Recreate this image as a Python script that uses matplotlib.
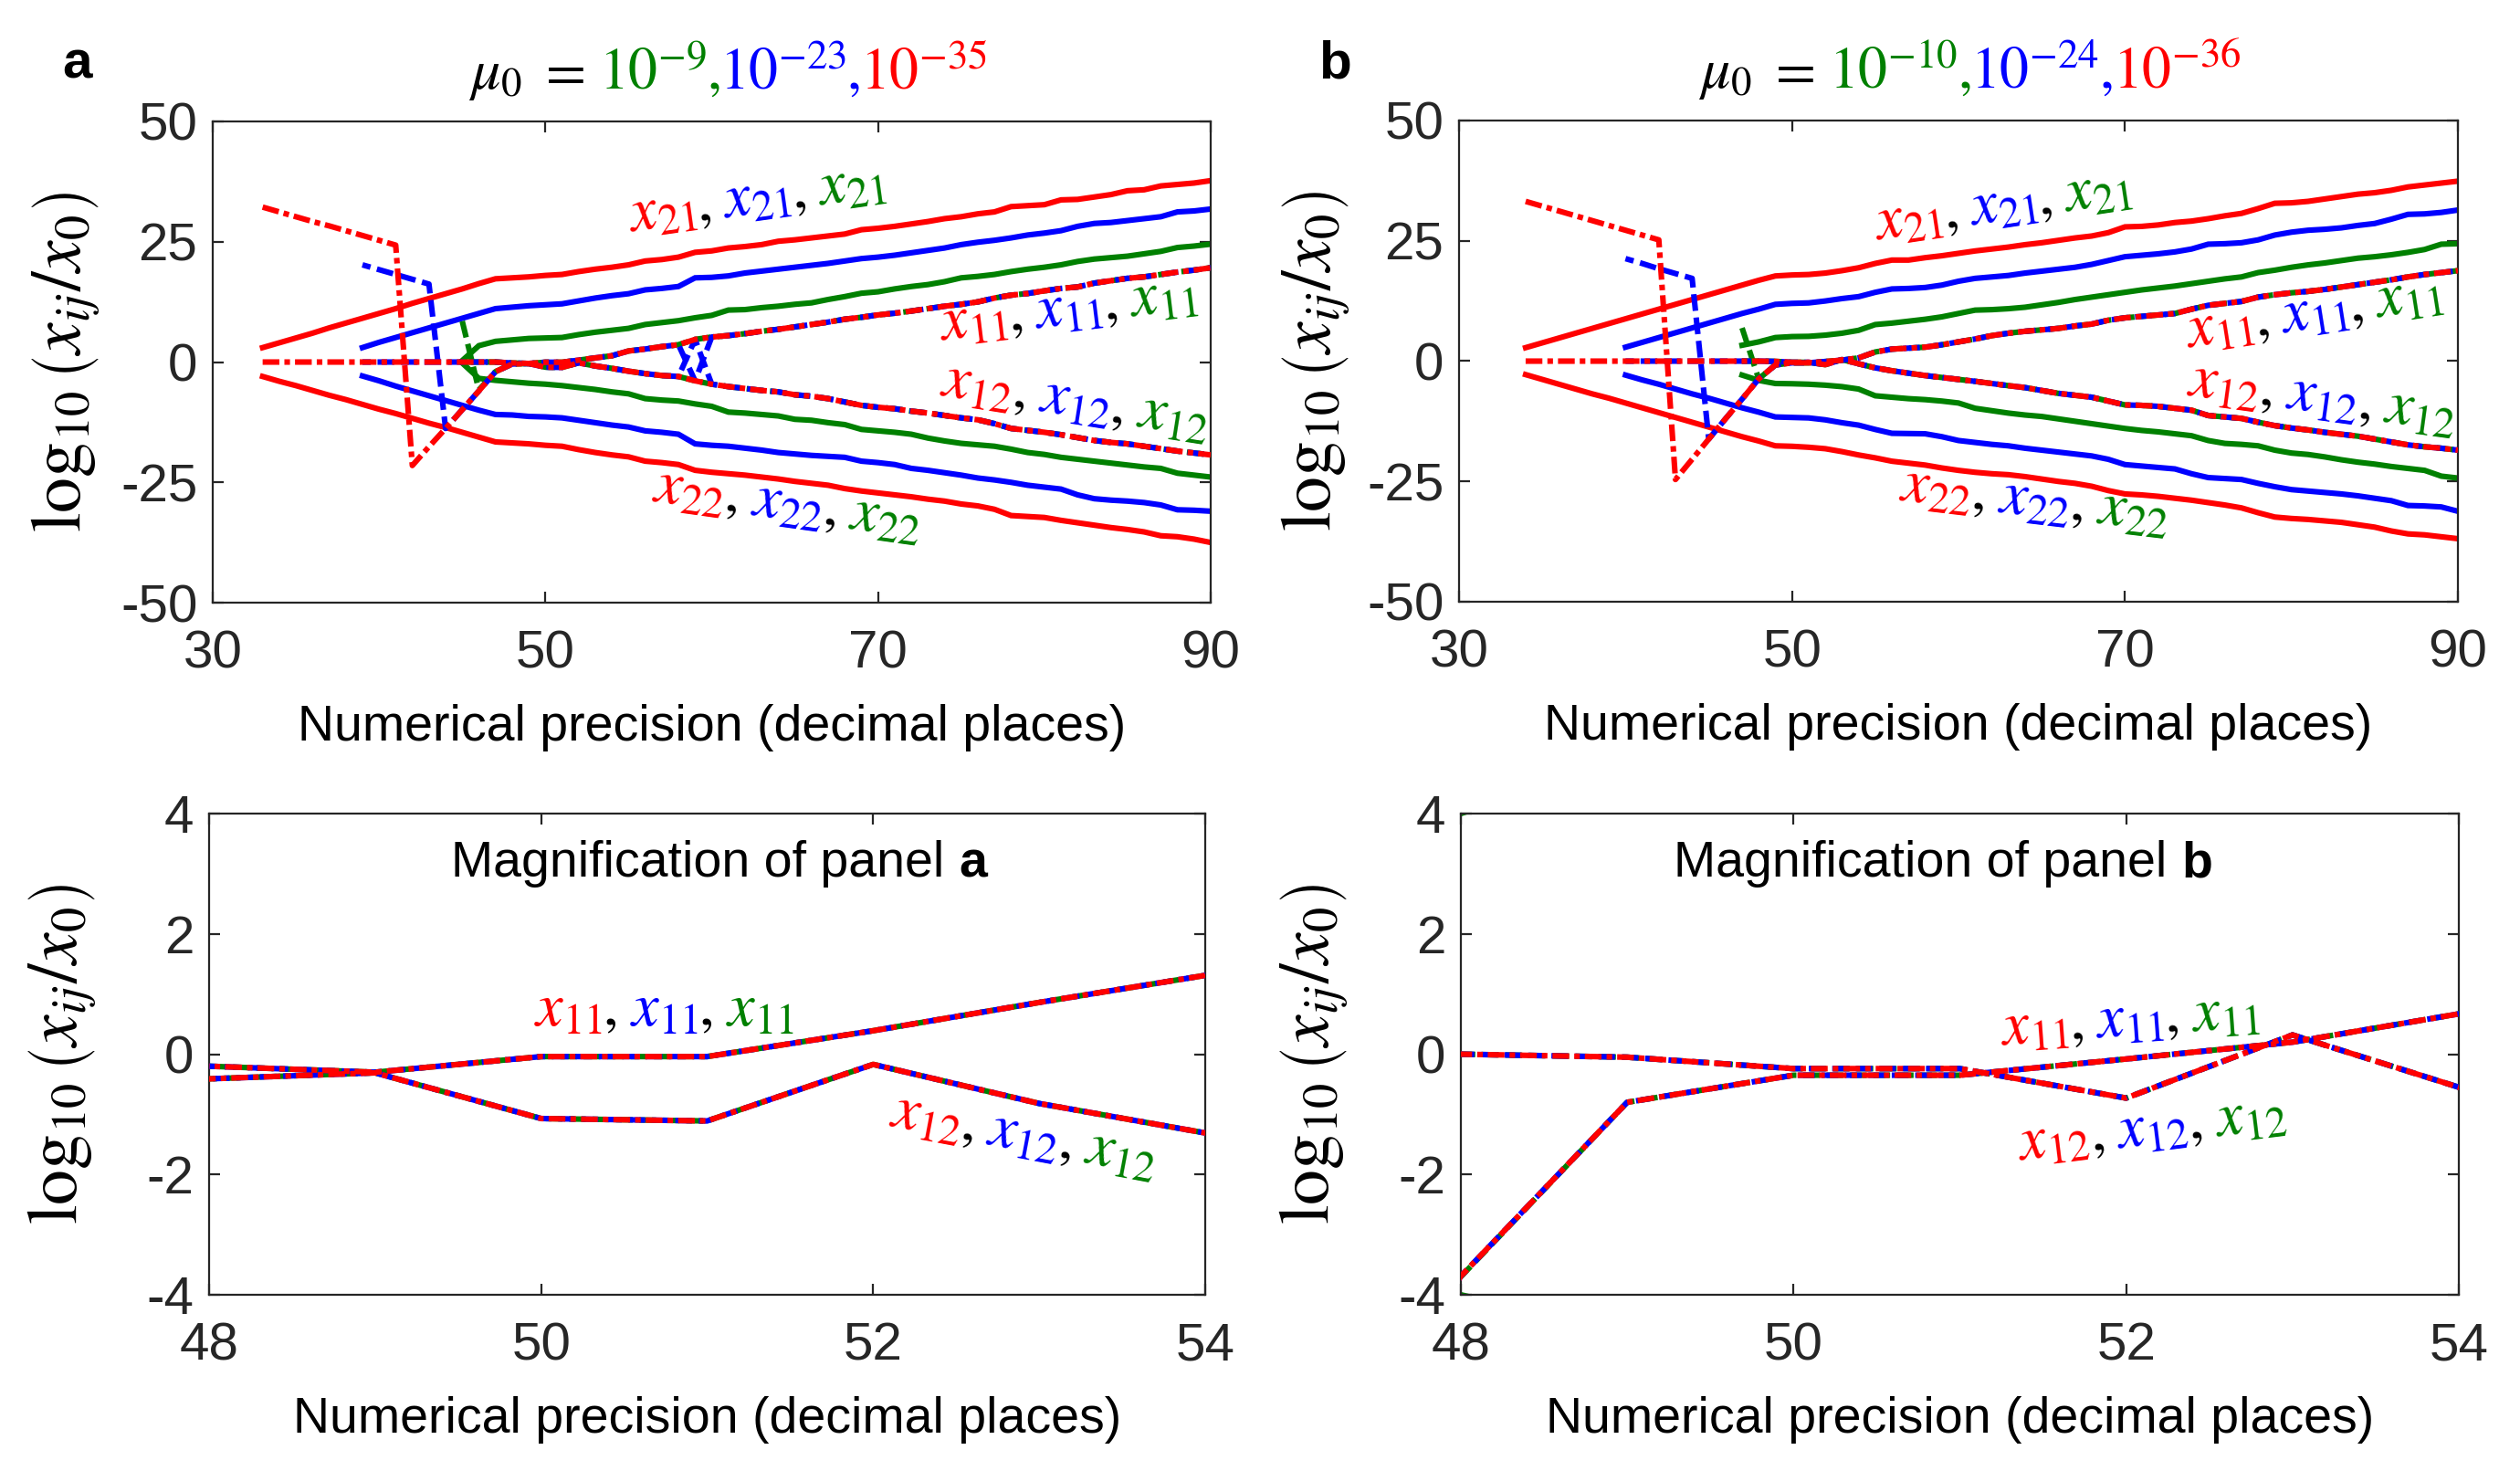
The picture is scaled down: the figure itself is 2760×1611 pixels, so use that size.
import numpy as np
import matplotlib
matplotlib.use("Agg")
import matplotlib.pyplot as plt
from matplotlib.transforms import ScaledTranslation

plt.rcParams['font.family'] = ['Liberation Sans', 'DejaVu Sans']
plt.rcParams['mathtext.fontset'] = 'stix'
plt.rcParams['axes.unicode_minus'] = False

GREEN = '#008000'
BLUE = '#0000ff'
RED = '#ff0000'
DARK = '#262626'

# ---------------- Panel a (mu0 = 1e-9 green, 1e-23 blue, 1e-35 red) ----------------
A_RED_START, A_BLUE_START, A_GREEN_START = 33, 39, 45
A_RED_X21 = [3.0, 4.0, 5.0, 6.0, 7.1, 8.1, 9.1, 10.1, 11.1, 12.2, 13.2, 14.2, 15.2, 16.3, 17.3,
             17.5, 17.7, 18.0, 18.2, 18.8, 19.3, 19.7, 20.2, 21.0, 21.3,
             21.8, 22.8, 23.1, 23.7, 24.0, 24.4, 25.1, 25.4, 25.8, 26.2,
             26.6, 27.5, 27.8, 28.2, 28.7, 29.2, 29.8, 30.2, 30.8, 31.2,
             32.3, 32.5, 32.7, 33.7, 33.8, 34.3, 34.8, 35.6, 35.8, 36.6,
             36.9, 37.2, 37.7]
A_RED_X22 = [-3.0, -4.0, -4.9, -5.9, -6.9, -7.8, -8.8, -9.8, -10.7, -11.7, -12.7, -13.6, -14.6, -15.6, -16.6,
             -16.8, -17.0, -17.3, -17.5, -18.2, -18.8, -19.3, -19.7, -20.6, -20.9,
             -21.3, -22.5, -22.9, -23.2, -23.5, -23.9, -24.3, -24.8, -25.2, -25.6,
             -26.3, -26.8, -27.2, -27.6, -28.0, -28.5, -28.9, -29.5, -29.9, -30.6,
             -31.9, -32.1, -32.3, -32.9, -33.4, -33.9, -34.4, -34.8, -35.3, -36.1,
             -36.3, -36.8, -37.5]
A_BLUE_X21 = [3.0, 4.1, 5.1, 6.1, 7.1, 8.1, 9.1, 10.1, 11.1,
              11.4, 11.7, 11.9, 12.1, 12.7, 13.3, 13.8, 14.2, 15.0, 15.3,
              15.7, 17.5, 17.6, 17.9, 18.5, 18.9, 19.3, 19.7, 20.1, 20.5,
              21.0, 21.5, 21.8, 22.2, 22.7, 23.2, 23.7, 24.4, 24.9, 25.3,
              25.8, 26.4, 26.8, 27.3, 28.2, 28.8, 29.0, 29.4, 29.8, 30.2,
              31.2, 31.4, 31.8]
A_BLUE_X22 = [-2.9, -3.9, -5.0, -6.0, -7.0, -8.0, -9.0, -10.0, -10.9,
              -11.0, -11.3, -11.4, -11.6, -12.1, -12.6, -13.1, -13.5, -14.3, -14.6,
              -15.0, -17.0, -17.3, -17.5, -17.9, -18.3, -18.8, -19.1, -19.4, -19.6,
              -19.8, -20.6, -20.9, -21.3, -22.1, -22.5, -23.0, -23.5, -24.1, -24.5,
              -25.0, -25.6, -26.0, -26.4, -27.6, -28.4, -28.7, -28.9, -29.2, -29.7,
              -30.7, -30.8, -31.0]
A_GREEN_X21 = [0.3, 3.4, 4.3,
               4.6, 4.9, 5.0, 5.1, 5.7, 6.2, 6.6, 7.0, 7.8, 8.2,
               8.6, 9.2, 9.7, 10.8, 10.9, 11.3, 11.6, 12.0, 12.3, 13.0,
               13.6, 14.3, 14.6, 15.2, 15.7, 16.1, 16.7, 17.5, 17.8, 18.2,
               18.8, 19.3, 19.7, 20.2, 20.9, 21.4, 21.7, 22.0, 22.5, 23.0,
               23.8, 24.1, 24.5]
A_GREEN_X22 = [-0.2, -3.4, -3.8,
               -4.1, -4.4, -4.6, -4.9, -5.3, -5.7, -6.2, -6.6, -7.6, -7.9,
               -8.1, -8.7, -9.2, -10.4, -10.6, -10.9, -11.2, -11.9, -12.1, -12.6,
               -13.0, -14.0, -14.3, -14.6, -15.0, -15.8, -16.4, -16.9, -17.2, -17.5,
               -18.1, -18.8, -19.2, -19.8, -20.2, -20.6, -21.0, -21.4, -21.8, -22.1,
               -23.1, -23.5, -23.9]
# dashed branches: heads (before 48) differ per colour, tails (48..90) are shared
A_TAIL_START = 48
A_X11_TAIL = [-0.2, -0.3, -0.04, -0.04, 0.39, 0.86, 1.31, 2.3, 2.7, 3.2,
              3.6, 4.7, 5.2, 5.5, 5.9, 6.4, 6.8, 7.3, 7.8, 8.3,
              8.9, 9.3, 9.8, 10.15, 10.6, 11.1, 11.6, 12.0, 12.5, 13.3,
              13.9, 14.25, 14.8, 15.3, 15.6, 16.4, 16.9, 17.4, 17.7, 18.2,
              18.7, 19.1, 19.6]
A_X12_TAIL = [-0.41, -0.31, -1.07, -1.11, -0.17, -0.82, -1.31, -1.9, -2.4, -2.8,
              -3.0, -3.9, -4.6, -5.1, -5.5, -5.9, -6.2, -6.8, -7.1, -7.6,
              -8.3, -9.0, -9.4, -9.7, -10.2, -10.6, -11.1, -11.6, -12.0, -12.8,
              -13.8, -14.2, -14.6, -15.1, -15.7, -16.3, -16.7, -17.0, -17.5, -18.0,
              -18.5, -18.9, -19.3]
A_RED_X11_HEAD = [0.0, 0.0, 0.0, 0.0, 0.0, 0.0, 0.0, 0.0, 0.0, 0.0, 0.0, 0.0, 0.0, 0.0, 0.0]
A_RED_X12_HEAD = [32.2, 31.2, 30.2, 29.2, 28.3, 27.3, 26.3, 25.3, 24.3, -21.5, -17.6, -13.8, -9.9, -6.0, -2.0]
A_BLUE_X11_HEAD = [0.0, 0.0, 0.0, 0.0, 0.0, 0.0, 0.0, 0.0, 0.0]
A_BLUE_X12_HEAD = [20.2, 19.2, 18.2, 17.2, 16.2, -13.8, -9.9, -6.0, -2.0]
A_GREEN_X11_HEAD = [0.0, 0.0, 0.0]
A_GREEN_X12_HEAD = [8.5, -5.8, -2.0]
A_BLUE_SWAP = [59]   # precision at which blue x11/x12 are interchanged

# ---------------- Panel b (mu0 = 1e-10 green, 1e-24 blue, 1e-36 red) ----------------
B_RED_START, B_BLUE_START, B_GREEN_START = 34, 40, 47
B_RED_X21 = [2.8, 3.8, 4.8, 5.8, 6.8, 7.8, 8.8, 9.8, 10.8, 11.8, 12.8, 13.8, 14.8, 15.8,
             16.8, 17.7, 17.9, 18.0, 18.3, 18.8, 19.4, 20.3, 21.0, 21.0,
             21.5, 21.9, 22.4, 22.9, 23.3, 23.7, 24.2, 24.6, 25.1, 25.6,
             26.0, 26.7, 27.9, 28.0, 28.3, 28.8, 29.1, 29.6, 30.2, 30.7,
             31.7, 32.8, 32.9, 33.2, 33.7, 34.2, 34.7, 35.0, 35.5, 36.2,
             36.6, 37.0, 37.4]
B_RED_X22 = [-2.8, -3.8, -4.8, -5.8, -6.8, -7.7, -8.7, -9.7, -10.7, -11.7, -12.7, -13.7, -14.7, -15.7,
             -16.6, -17.6, -17.7, -17.9, -18.2, -18.8, -19.5, -20.1, -20.8, -21.2,
             -21.6, -22.2, -22.7, -23.1, -23.4, -23.6, -24.0, -24.5, -25.0, -25.4,
             -26.0, -26.9, -27.6, -27.8, -28.1, -28.5, -28.9, -29.4, -29.9, -30.5,
             -31.5, -32.4, -32.7, -32.9, -33.2, -33.5, -34.0, -34.5, -35.3, -35.9,
             -36.1, -36.5, -36.9]
B_BLUE_X21 = [2.9, 3.9, 4.9, 5.9, 6.9, 7.9, 8.9, 9.9,
              10.8, 11.8, 12.0, 12.1, 12.5, 13.0, 13.4, 14.3, 15.0, 15.1,
              15.3, 15.8, 16.6, 17.2, 17.5, 17.8, 18.3, 18.7, 19.1, 19.5,
              20.1, 20.9, 21.7, 22.0, 22.3, 22.7, 23.3, 24.3, 24.4, 24.6,
              25.2, 26.2, 26.8, 27.2, 27.4, 27.7, 28.2, 28.6, 29.5, 30.5,
              30.6, 30.9, 31.4]
B_BLUE_X22 = [-2.9, -3.9, -4.8, -5.8, -6.8, -7.7, -8.7, -9.7,
              -10.6, -11.6, -11.7, -11.8, -12.2, -12.8, -13.3, -14.2, -15.0, -15.05,
              -15.1, -15.7, -16.5, -16.9, -17.3, -17.6, -18.1, -18.5, -18.9, -19.3,
              -19.7, -20.4, -21.5, -21.8, -22.1, -22.4, -23.4, -24.2, -24.4, -24.6,
              -25.4, -26.1, -26.7, -27.0, -27.3, -27.6, -28.0, -28.5, -29.0, -30.0,
              -30.1, -30.3, -31.2]
B_GREEN_X21 = [3.3,
               4.0, 4.9, 5.1, 5.15, 5.4, 5.8, 6.4, 7.6, 7.9, 8.3,
               8.7, 9.2, 9.9, 10.6, 10.7, 10.9, 11.2, 11.7, 12.2, 12.8,
               13.3, 13.8, 14.3, 14.8, 15.2, 15.6, 16.1, 16.6, 17.1, 17.5,
               18.4, 18.9, 19.5, 20.0, 20.4, 20.9, 21.4, 21.7, 22.1, 22.6,
               23.2, 24.3, 24.4]
B_GREEN_X22 = [-2.9,
               -4.0, -4.65, -4.7, -4.8, -5.0, -5.3, -5.8, -7.2, -7.5, -7.8,
               -8.0, -8.3, -8.7, -9.8, -10.3, -10.8, -11.2, -11.5, -12.0, -12.5,
               -13.0, -13.5, -14.0, -14.4, -14.7, -15.1, -15.5, -16.5, -17.1, -17.3,
               -17.6, -18.5, -19.1, -19.4, -19.9, -20.5, -21.0, -21.4, -21.9, -22.3,
               -22.7, -23.9, -24.3]
B_X11_TAIL_START = 49
B_X11_TAIL = [-0.8, -0.35, -0.35, -0.08, 0.2, 0.67, 1.9, 2.5, 2.7,
              2.9, 3.4, 4.0, 4.6, 5.3, 5.8, 6.2, 6.5, 6.8, 7.3,
              7.7, 8.5, 9.0, 9.3, 9.6, 9.9, 10.8, 11.6, 12.0, 12.4,
              13.3, 13.8, 14.2, 14.5, 14.9, 15.4, 15.9, 16.4, 16.9, 17.5,
              18.0, 18.4, 18.8]
B_X12_TAIL_START = 48
B_X12_TAIL = [0.0, -0.05, -0.24, -0.24, -0.73, 0.32, -0.55, -1.4, -2.0, -2.5,
              -3.0, -3.4, -3.8, -4.2, -4.65, -5.1, -5.5, -6.1, -6.7, -7.1,
              -7.5, -8.3, -9.1, -9.2, -9.4, -9.8, -10.2, -11.3, -11.6, -11.9,
              -12.7, -13.4, -13.9, -14.3, -14.8, -15.2, -15.6, -16.2, -16.8, -17.4,
              -17.8, -18.1, -18.5]
B_RED_X11_HEAD = [33.2, 32.2, 31.2, 30.2, 29.2, 28.2, 27.2, 26.2, 25.2, -24.6, -20.4, -16.2, -12.0, -7.9, -3.69]
B_BLUE_X11_HEAD = [21.3, 20.3, 19.2, 18.2, 17.2, -16.2, -12.0, -7.9, -3.69]
B_GREEN_X11_HEAD = [6.9, -3.7]
B_RED_X12_HEAD = [0.0, 0.0, 0.0, 0.0, 0.0, 0.0, 0.0, 0.0, 0.0, 0.0, 0.0, 0.0, 0.0, 0.0]
B_BLUE_X12_HEAD = [0.0, 0.0, 0.0, 0.0, 0.0, 0.0, 0.0, 0.0]
B_GREEN_X12_HEAD = [0.0]

# ---------------- text ----------------
XLABEL = 'Numerical precision (decimal places)'
YLABEL = r'$\log_{10}\left(x_{ij}/x_0\right)$'
TOP_XTICKS = [30, 50, 70, 90]
TOP_YTICKS = [50, 25, 0, -25, -50]
BOT_XTICKS = [48, 50, 52, 54]
BOT_YTICKS = [4, 2, 0, -2, -4]

LW = 2.2
DASH_G = (0, (3.0, 1.2))
DASH_B = (1.5, (3.0, 1.2))
DASH_R = (0, (3.0, 0.9, 1.0, 0.9))


def xs(start, n):
    return np.arange(start, start + n)


def build_a():
    solid = [(xs(A_GREEN_START, len(A_GREEN_X21)), A_GREEN_X21, GREEN),
             (xs(A_GREEN_START, len(A_GREEN_X22)), A_GREEN_X22, GREEN),
             (xs(A_BLUE_START, len(A_BLUE_X21)), A_BLUE_X21, BLUE),
             (xs(A_BLUE_START, len(A_BLUE_X22)), A_BLUE_X22, BLUE),
             (xs(A_RED_START, len(A_RED_X21)), A_RED_X21, RED),
             (xs(A_RED_START, len(A_RED_X22)), A_RED_X22, RED)]
    bx11 = list(A_X11_TAIL)
    bx12 = list(A_X12_TAIL)
    for p in A_BLUE_SWAP:
        i = p - A_TAIL_START
        bx11[i], bx12[i] = bx12[i], bx11[i]
    dashed = []
    for start, h11, h12, t11, t12, col, ls in [
            (A_GREEN_START, A_GREEN_X11_HEAD, A_GREEN_X12_HEAD, A_X11_TAIL, A_X12_TAIL, GREEN, DASH_G),
            (A_BLUE_START, A_BLUE_X11_HEAD, A_BLUE_X12_HEAD, bx11, bx12, BLUE, DASH_B),
            (A_RED_START, A_RED_X11_HEAD, A_RED_X12_HEAD, A_X11_TAIL, A_X12_TAIL, RED, DASH_R)]:
        y11 = list(h11) + list(t11)
        y12 = list(h12) + list(t12)
        dashed.append((xs(start, len(y11)), y11, col, ls))
        dashed.append((xs(start, len(y12)), y12, col, ls))
    return solid, dashed


def build_b():
    solid = [(xs(B_GREEN_START, len(B_GREEN_X21)), B_GREEN_X21, GREEN),
             (xs(B_GREEN_START, len(B_GREEN_X22)), B_GREEN_X22, GREEN),
             (xs(B_BLUE_START, len(B_BLUE_X21)), B_BLUE_X21, BLUE),
             (xs(B_BLUE_START, len(B_BLUE_X22)), B_BLUE_X22, BLUE),
             (xs(B_RED_START, len(B_RED_X21)), B_RED_X21, RED),
             (xs(B_RED_START, len(B_RED_X22)), B_RED_X22, RED)]
    dashed = []
    for start, h11, h12, col, ls in [
            (B_GREEN_START, B_GREEN_X11_HEAD, B_GREEN_X12_HEAD, GREEN, DASH_G),
            (B_BLUE_START, B_BLUE_X11_HEAD, B_BLUE_X12_HEAD, BLUE, DASH_B),
            (B_RED_START, B_RED_X11_HEAD, B_RED_X12_HEAD, RED, DASH_R)]:
        y11 = list(h11) + list(B_X11_TAIL)
        y12 = list(h12) + list(B_X12_TAIL)
        dashed.append((xs(start, len(y11)), y11, col, ls))
        dashed.append((xs(start, len(y12)), y12, col, ls))
    return solid, dashed


def draw(ax, solid, dashed):
    for x, y, c in solid:
        ax.plot(x, y, color=c, lw=LW, solid_joinstyle='miter', zorder=2)
    for x, y, c, ls in dashed:
        ax.plot(x, y, color=c, lw=LW, linestyle=ls, dash_capstyle='butt', zorder=3)


def style(ax, xlim, ylim, xt, yt, ylab_x):
    ax.set_xlim(*xlim)
    ax.set_ylim(*ylim)
    ax.set_xticks(xt)
    ax.set_yticks(yt)
    ax.tick_params(direction='in', length=4.3, width=0.8, color=DARK, labelcolor=DARK,
                   labelsize=21, top=True, right=True)
    ax.tick_params(axis='x', pad=10.5)
    ax.tick_params(axis='y', pad=6)
    for s in ax.spines.values():
        s.set_color(DARK)
        s.set_linewidth(0.8)
    ax.set_xlabel(XLABEL, fontsize=20, color='black')
    ax.xaxis.set_label_coords(0.5, -0.287)
    ax.xaxis.label.set_va('baseline')
    ax.set_ylabel(YLABEL, fontsize=28, color='black')
    ax.yaxis.set_label_coords(ylab_x, 0.5)
    ax.yaxis.label.set_va('center')


def rich(ax, x, y, pieces, fs, angle=0.0, transform=None, center=False):
    fig = ax.figure
    r = fig.canvas.get_renderer()
    tr = transform if transform is not None else ax.transData
    arts, adv = [], []
    for p in pieces:
        s, c = p[0], p[1]
        gap = p[2] if len(p) > 2 else 0.0
        weight = p[3] if len(p) > 3 else 'normal'
        t = ax.text(x, y, s, color=c, fontsize=fs, fontweight=weight, transform=tr,
                    ha='left', va='baseline', rotation=0, rotation_mode='anchor', clip_on=False)
        w = t.get_window_extent(r).width + gap * fs * fig.dpi / 72.0
        arts.append(t)
        adv.append(w)
    total = sum(adv)
    off = -total / 2.0 if center else 0.0
    th = np.radians(angle)
    for t, w in zip(arts, adv):
        t.set_transform(tr + ScaledTranslation(off * np.cos(th) / fig.dpi,
                                               off * np.sin(th) / fig.dpi, fig.dpi_scale_trans))
        t.set_rotation(angle)
        off += w


def xlabel_pieces(sub):
    return [(r'$x_{%s}$' % sub, RED), (r'$,$', 'black', 0.22),
            (r'$x_{%s}$' % sub, BLUE), (r'$,$', 'black', 0.22),
            (r'$x_{%s}$' % sub, GREEN)]


fig = plt.figure(figsize=(13.8, 8.055), dpi=200)
W, H = 2760.0, 1611.0
axA = fig.add_axes([233 / W, 1 - 660 / H, (1326 - 233) / W, 527 / H])
axB = fig.add_axes([1598 / W, 1 - 659 / H, (2692 - 1598) / W, 527 / H])
axC = fig.add_axes([229 / W, 1 - 1418 / H, (1320 - 229) / W, 527 / H])
axD = fig.add_axes([1600 / W, 1 - 1418 / H, (2693 - 1600) / W, 527 / H])

sa, da = build_a()
sb, db = build_b()
draw(axA, sa, da)
draw(axC, sa, da)
draw(axB, sb, db)
draw(axD, sb, db)

style(axA, (30, 90), (-50, 50), TOP_XTICKS, TOP_YTICKS, -0.147)
style(axB, (30, 90), (-50, 50), TOP_XTICKS, TOP_YTICKS, -0.1435)
style(axC, (48, 54), (-4, 4), BOT_XTICKS, BOT_YTICKS, -0.1476)
style(axD, (48, 54), (-4, 4), BOT_XTICKS, BOT_YTICKS, -0.147)

FS_LAB = 24
# panel a curve labels
rich(axA, 55.1, 27.2, xlabel_pieces('21'), FS_LAB, angle=8)
rich(axA, 73.8, 4.65, xlabel_pieces('11'), FS_LAB, angle=7)
rich(axA, 73.7, -6.7, xlabel_pieces('12'), FS_LAB, angle=-9)
rich(axA, 56.4, -28.7, xlabel_pieces('22'), FS_LAB, angle=-8)
# panel b curve labels
rich(axB, 55.1, 25.3, xlabel_pieces('21'), FS_LAB, angle=8.6)
rich(axB, 73.8, 2.9, xlabel_pieces('11'), FS_LAB, angle=9)
rich(axB, 73.7, -6.9, xlabel_pieces('12'), FS_LAB, angle=-7.8)
rich(axB, 56.4, -28.7, xlabel_pieces('22'), FS_LAB, angle=-6.8)
# magnification labels
rich(axC, 49.96, 0.48, xlabel_pieces('11'), FS_LAB, angle=0)
rich(axC, 52.09, -1.18, xlabel_pieces('12'), FS_LAB, angle=-10.7)
rich(axD, 51.25, 0.16, xlabel_pieces('11'), FS_LAB, angle=4.2)
rich(axD, 51.36, -1.76, xlabel_pieces('12'), FS_LAB, angle=7)

# titles
title_a = [(r'$\mu_0$', 'black', 0.25), (r'$=$', 'black', 0.25), (r'$10^{-9}$', GREEN), (r'$,$', GREEN),
           (r'$10^{-23}$', BLUE), (r'$,$', BLUE), (r'$10^{-35}$', RED)]
title_b = [(r'$\mu_0$', 'black', 0.25), (r'$=$', 'black', 0.25), (r'$10^{-10}$', GREEN), (r'$,$', GREEN),
           (r'$10^{-24}$', BLUE), (r'$,$', BLUE), (r'$10^{-36}$', RED)]
rich(axA, 0.516, 1.068, title_a, 23, transform=axA.transAxes, center=True)
rich(axB, 0.511, 1.068, title_b, 23, transform=axB.transAxes, center=True)

rich(axC, 0.512, 0.869, [('Magnification of panel', 'black', 0.28), ('a', 'black', 0.0, 'bold')], 20,
     transform=axC.transAxes, center=True)
rich(axD, 0.483, 0.869, [('Magnification of panel', 'black', 0.28), ('b', 'black', 0.0, 'bold')], 20,
     transform=axD.transAxes, center=True)

fig.text(68 / W, 1 - 85 / H, 'a', fontsize=21, fontweight='bold', ha='left', va='baseline')
fig.text(1444 / W, 1 - 85 / H, 'b', fontsize=21, fontweight='bold', ha='left', va='baseline')

fig.savefig('out.png', dpi=200)
